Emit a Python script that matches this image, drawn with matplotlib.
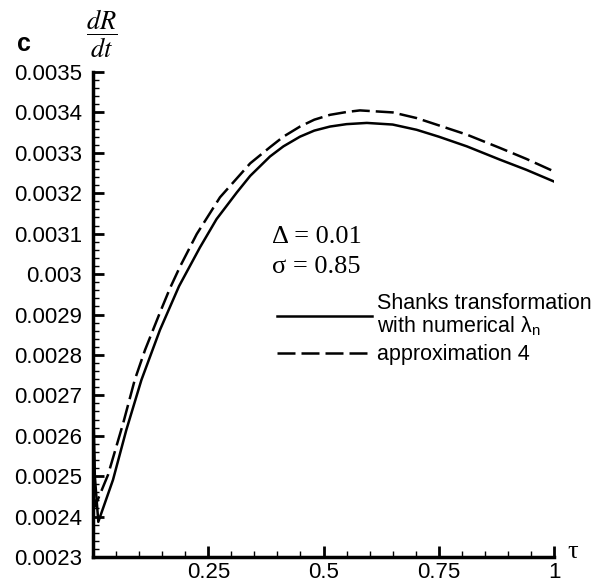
import matplotlib
matplotlib.use("Agg")
import matplotlib.pyplot as plt
from matplotlib.ticker import MultipleLocator, FixedLocator, FixedFormatter
from matplotlib.lines import Line2D
from matplotlib.font_manager import FontProperties

plt.rcParams['mathtext.fontset'] = 'custom'
plt.rcParams['mathtext.rm'] = 'Liberation Sans'
plt.rcParams['mathtext.it'] = 'Liberation Sans:italic'

# ---------------- data ----------------
tau_shanks = [0, 0.004, 0.0115, 0.0434, 0.0722, 0.105, 0.1453, 0.1866,
              0.232, 0.268, 0.312, 0.341, 0.384, 0.413, 0.449, 0.48, 0.514,
              0.55, 0.594, 0.65, 0.702, 0.75, 0.811, 0.883, 0.94, 1.0]
drdt_shanks = [0.00270, 0.00250, 0.002387, 0.002491, 0.002614, 0.002738, 0.002862,
               0.002970, 0.003066, 0.003136, 0.003202, 0.003243, 0.003291,
               0.003316, 0.003340, 0.003355, 0.003365, 0.003371, 0.003374, 0.003370,
               0.003357, 0.003340, 0.003316, 0.003283, 0.003258, 0.003229]

tau_approx = [0, 0.0043, 0.0325, 0.0657, 0.0905, 0.1128, 0.1453, 0.167, 0.189,
              0.225, 0.2755, 0.341, 0.384, 0.413, 0.449, 0.48, 0.514, 0.55,
              0.579, 0.65, 0.702, 0.75, 0.811, 0.883, 0.94, 1.0]
drdt_approx = [0.00268, 0.002425, 0.002503, 0.002632, 0.002738, 0.002812, 0.002905,
               0.002965, 0.003019, 0.003099, 0.003190, 0.003274, 0.003314, 0.003340,
               0.003365, 0.003382, 0.003394, 0.003401, 0.003405, 0.003400, 0.003386,
               0.003368, 0.003345, 0.003312, 0.003285, 0.003254]

x_ticks = [0, 0.25, 0.5, 0.75, 1.0]
x_tick_labels = ['', '0.25', '0.5', '0.75', '1']
y_ticks = [0.0023, 0.0024, 0.0025, 0.0026, 0.0027, 0.0028, 0.0029, 0.0030,
           0.0031, 0.0032, 0.0033, 0.0034, 0.0035]
y_tick_labels = ['0.0023', '0.0024', '0.0025', '0.0026', '0.0027', '0.0028', '0.0029',
                 '0.003', '0.0031', '0.0032', '0.0033', '0.0034', '0.0035']

label_shanks = 'Shanks transformation\nwith numerical λ$_{\\rm n}$'
label_approx = 'approximation 4'
param_lines = ['Δ = 0.01', 'σ = 0.85']

# ---------------- figure ----------------
W, H = 603, 583
fig = plt.figure(figsize=(W / 100, H / 100), dpi=100)
ax = fig.add_axes([93 / W, 26 / H, 461 / W, 485 / H])

lw = 1.8
dash = (0, (7.2, 2.4))
ax.plot(tau_shanks, drdt_shanks, color='black', lw=lw, solid_joinstyle='round')
ax.plot(tau_approx, drdt_approx, color='black', lw=lw, linestyle=dash)

ax.set_xlim(0, 1)
ax.set_ylim(0.0023, 0.0035)

for s in ['top', 'right']:
    ax.spines[s].set_visible(False)
for s in ['left', 'bottom']:
    ax.spines[s].set_linewidth(2.5)

ax.xaxis.set_major_locator(FixedLocator(x_ticks))
ax.xaxis.set_major_formatter(FixedFormatter(x_tick_labels))
ax.xaxis.set_minor_locator(MultipleLocator(0.05))
ax.yaxis.set_major_locator(FixedLocator(y_ticks))
ax.yaxis.set_major_formatter(FixedFormatter(y_tick_labels))
ax.yaxis.set_minor_locator(MultipleLocator(0.00002))

ax.tick_params(which='major', direction='in', length=8, width=2)
ax.tick_params(which='minor', direction='in', length=4, width=1)
ax.tick_params(axis='y', which='major', pad=8)
ax.tick_params(axis='x', which='major', pad=3.5)
for lab in ax.get_xticklabels() + ax.get_yticklabels():
    lab.set_fontfamily('Liberation Sans')
    lab.set_fontsize(16)

# axis labels / panel letter
fig.text(17 / W, 1 - 44 / H, 'c', fontfamily='Liberation Sans', fontweight='bold',
         fontsize=18, ha='left', va='center')
fig.text(102 / W, 1 - 34 / H, r'$\dfrac{dR}{dt}$', math_fontfamily='stix',
         fontsize=19, ha='center', va='center')
fig.text(567 / W, 1 - 552 / H, 'τ', fontfamily='Liberation Serif', fontsize=19,
         ha='left', va='center')

# parameters
fig.text(272 / W, 1 - 237 / H, param_lines[0], fontfamily='Liberation Serif',
         fontsize=19, ha='left', va='center')
fig.text(272 / W, 1 - 267 / H, param_lines[1], fontfamily='Liberation Serif',
         fontsize=19, ha='left', va='center')

handles = [Line2D([], [], color='black', lw=lw),
           Line2D([], [], color='black', lw=lw, linestyle=dash)]
prop = FontProperties(family='Liberation Sans', size=15.5, math_fontfamily='custom')
leg = fig.legend(handles, [label_shanks, label_approx], loc='upper left',
                 bbox_to_anchor=(277 / W, 1 - 293 / H), frameon=False, prop=prop,
                 handlelength=4.4, handletextpad=0.25, labelspacing=0.3,
                 borderpad=0, borderaxespad=0)
for t in leg.get_texts():
    t.set_linespacing(1.0)

fig.savefig('out.png', dpi=100)
